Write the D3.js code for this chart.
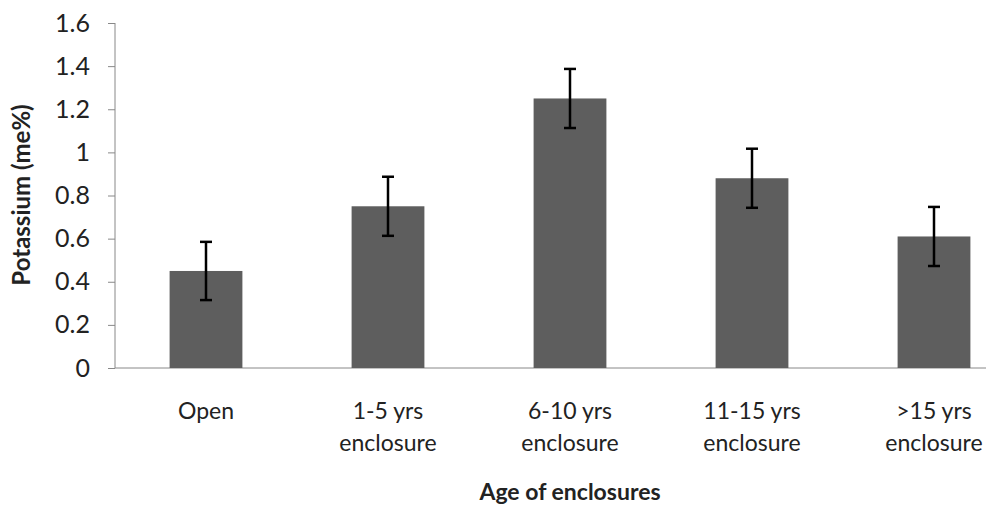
<!DOCTYPE html>
<html>
<head>
<meta charset="utf-8">
<script src="https://cdn.jsdelivr.net/npm/d3@7"></script>
<style>
  body { margin: 0; background: #fff; }
  svg text { font-family: Lato, "Open Sans", sans-serif; fill: #222; }
</style>
</head>
<body>
<svg id="chart" width="986" height="508"></svg>
<script>
// chart data
var categories = ["Open", "1-5 yrs enclosure", "6-10 yrs enclosure", "11-15 yrs enclosure", ">15 yrs enclosure"];
var labelLine1 = ["Open", "1-5 yrs", "6-10 yrs", "11-15 yrs", ">15 yrs"];
var labelLine2 = ["", "enclosure", "enclosure", "enclosure", "enclosure"];
var potassium = [0.45, 0.75, 1.25, 0.88, 0.61];
var stdErr = [0.135, 0.137, 0.137, 0.137, 0.137];
var yTicks = [0, 0.2, 0.4, 0.6, 0.8, 1, 1.2, 1.4, 1.6];

var svg = d3.select("#chart");

// plot area (right side runs past the picture edge, like the original crop)
var pLeft = 115, pRight = 1025, pTop = 23, pBottom = 368;

var x = d3.scaleBand()
    .domain(categories)
    .range([pLeft, pRight])
    .paddingInner(0.6)
    .paddingOuter(0.3);

var y = d3.scaleLinear()
    .domain([0, 1.6])
    .range([pBottom, pTop]);

// y axis
var yAxis = svg.append("g")
    .attr("transform", "translate(" + pLeft + ",0)")
    .call(d3.axisLeft(y).tickValues(yTicks).tickSize(7).tickPadding(18)
        .tickFormat(function(d) { return String(+d.toFixed(1)); }));
yAxis.selectAll("line").attr("stroke", "#888");
yAxis.select(".domain").attr("stroke", "#888").attr("d", "M0," + pTop + "V" + pBottom);
yAxis.selectAll("text")
    .style("font-size", "25px")
    .attr("fill", "#222");

// x axis line only
svg.append("line")
    .attr("x1", pLeft).attr("x2", 986)
    .attr("y1", pBottom).attr("y2", pBottom)
    .attr("stroke", "#888");

// bars
svg.append("g").selectAll("rect")
    .data(categories)
    .join("rect")
    .attr("x", function(d) { return x(d); })
    .attr("y", function(d, i) { return y(potassium[i]); })
    .attr("width", x.bandwidth())
    .attr("height", function(d, i) { return y(0) - y(potassium[i]); })
    .attr("fill", "#5e5e5e");

// error bars
var capW = 6;
var err = svg.append("g").selectAll("g")
    .data(categories)
    .join("g")
    .attr("stroke", "#000")
    .attr("stroke-width", 2.5);
err.append("line")
    .attr("x1", function(d) { return x(d) + x.bandwidth() / 2; })
    .attr("x2", function(d) { return x(d) + x.bandwidth() / 2; })
    .attr("y1", function(d, i) { return y(potassium[i] + stdErr[i]); })
    .attr("y2", function(d, i) { return y(potassium[i] - stdErr[i]); });
err.append("line")
    .attr("x1", function(d) { return x(d) + x.bandwidth() / 2 - capW; })
    .attr("x2", function(d) { return x(d) + x.bandwidth() / 2 + capW; })
    .attr("y1", function(d, i) { return y(potassium[i] + stdErr[i]); })
    .attr("y2", function(d, i) { return y(potassium[i] + stdErr[i]); });
err.append("line")
    .attr("x1", function(d) { return x(d) + x.bandwidth() / 2 - capW; })
    .attr("x2", function(d) { return x(d) + x.bandwidth() / 2 + capW; })
    .attr("y1", function(d, i) { return y(potassium[i] - stdErr[i]); })
    .attr("y2", function(d, i) { return y(potassium[i] - stdErr[i]); });

// category labels (two lines)
var lab = svg.append("g").selectAll("text")
    .data(categories)
    .join("text")
    .attr("text-anchor", "middle")
    .style("font-size", "23px");
lab.append("tspan")
    .attr("x", function(d) { return x(d) + x.bandwidth() / 2; })
    .attr("y", 419)
    .text(function(d, i) { return labelLine1[i]; });
lab.append("tspan")
    .attr("x", function(d) { return x(d) + x.bandwidth() / 2; })
    .attr("y", 451)
    .text(function(d, i) { return labelLine2[i]; });

// axis titles
svg.append("text")
    .attr("text-anchor", "middle")
    .attr("x", (pLeft + pRight) / 2)
    .attr("y", 500)
    .style("font-size", "23px")
    .style("font-weight", "bold")
    .text("Age of enclosures");

svg.append("text")
    .attr("text-anchor", "middle")
    .attr("transform", "translate(30,195) rotate(-90)")
    .style("font-size", "24px")
    .style("font-weight", "bold")
    .text("Potassium (me%)");
</script>
</body>
</html>
